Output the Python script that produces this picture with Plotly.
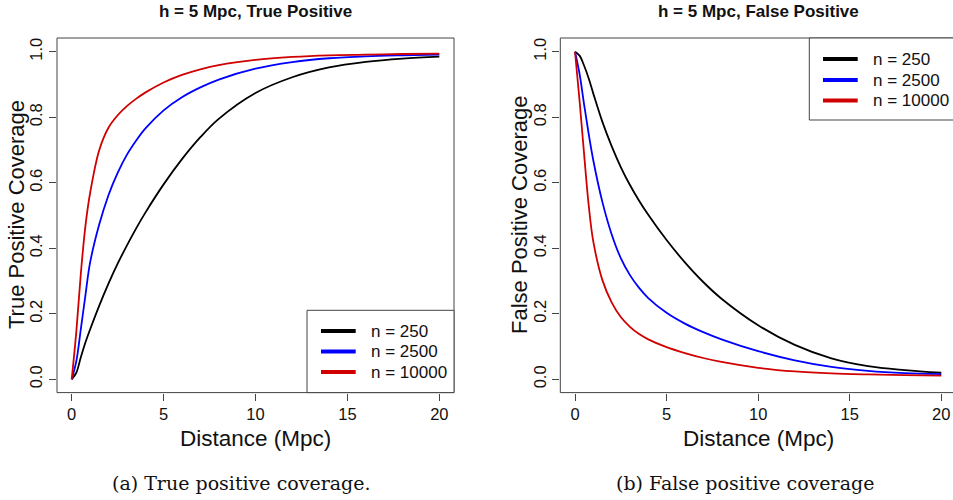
import plotly.graph_objects as go

W, H = 953, 500

# ---------------- data ----------------
dist = [0, 0.25, 0.5, 0.75, 1, 1.5, 2, 2.5, 3, 3.5, 4, 5, 6, 7, 8, 10, 12, 14, 16, 18, 20]

tp_250 = [0, 0.020, 0.068, 0.113, 0.152, 0.225, 0.292, 0.353, 0.408, 0.460, 0.508, 0.595, 0.672,
          0.739, 0.795, 0.874, 0.922, 0.952, 0.969, 0.979, 0.985]
tp_2500 = [0, 0.055, 0.155, 0.258, 0.356, 0.473, 0.562, 0.630, 0.685, 0.728, 0.765, 0.821, 0.861,
           0.891, 0.915, 0.948, 0.968, 0.980, 0.986, 0.989, 0.991]
tp_10000 = [0, 0.145, 0.325, 0.47, 0.568, 0.70, 0.768, 0.806, 0.834, 0.856, 0.875, 0.906, 0.929,
            0.946, 0.959, 0.975, 0.984, 0.989, 0.991, 0.993, 0.994]

fp_250 = [1.0, 0.988, 0.957, 0.918, 0.872, 0.785, 0.712, 0.648, 0.593, 0.545, 0.502, 0.425, 0.357,
          0.297, 0.246, 0.165, 0.105, 0.064, 0.040, 0.028, 0.02]
fp_2500 = [1.0, 0.932, 0.838, 0.748, 0.668, 0.54, 0.443, 0.37, 0.318, 0.279, 0.248, 0.203, 0.17,
           0.144, 0.122, 0.086, 0.058, 0.038, 0.026, 0.019, 0.016]
fp_10000 = [1.0, 0.85, 0.685, 0.53, 0.42, 0.302, 0.235, 0.19, 0.16, 0.138, 0.122, 0.098, 0.08,
            0.065, 0.053, 0.035, 0.024, 0.018, 0.015, 0.013, 0.011]

series_names = ["n = 250", "n = 2500", "n = 10000"]
series_colors = ["#000000", "#0000FF", "#D00000"]

x_ticks = [0, 5, 10, 15, 20]
y_ticks = [0.0, 0.2, 0.4, 0.6, 0.8, 1.0]
y_tick_text = ["0.0", "0.2", "0.4", "0.6", "0.8", "1.0"]

titles = ["h = 5 Mpc, True Positive", "h = 5 Mpc, False Positive"]
y_titles = ["True Positive Coverage", "False Positive Coverage"]
x_title = "Distance (Mpc)"
captions = ["(a) True positive coverage.", "(b) False positive coverage"]

# ---------------- helpers ----------------
def PX(x):
    return x / W

def PY(y):
    return 1 - y / H

SANS = "Liberation Sans, Arial, Helvetica, sans-serif"
SERIF = "DejaVu Serif, Liberation Serif, serif"
BOX = "#444444"

fig = go.Figure()

for ys, name, col in zip([tp_250, tp_2500, tp_10000], series_names, series_colors):
    fig.add_trace(go.Scatter(x=dist, y=ys, mode="lines", name=name,
                             line=dict(color=col, width=1.8, shape="spline", smoothing=1.0),
                             xaxis="x", yaxis="y", showlegend=False, hoverinfo="skip"))
for ys, name, col in zip([fp_250, fp_2500, fp_10000], series_names, series_colors):
    fig.add_trace(go.Scatter(x=dist, y=ys, mode="lines", name=name,
                             line=dict(color=col, width=1.8, shape="spline", smoothing=1.0),
                             xaxis="x2", yaxis="y2", showlegend=False, hoverinfo="skip"))

ydom = [PY(392.6), PY(38)]
axis_common = dict(ticks="outside", ticklen=7, tickcolor=BOX, tickwidth=1,
                   showgrid=False, zeroline=False, showline=False, automargin=False,
                   tickfont=dict(family=SANS, size=16.5, color="#111"))

fig.update_layout(
    width=W, height=H,
    margin=dict(l=0, r=0, t=0, b=0),
    paper_bgcolor="white", plot_bgcolor="white",
    template="none",
    showlegend=False,
    xaxis=dict(domain=[PX(57), PX(454)], range=[-0.8, 20.8], tickvals=x_ticks,
               anchor="y", **axis_common),
    yaxis=dict(domain=ydom, range=[-0.0406, 1.0418], tickvals=y_ticks, ticktext=y_tick_text,
               tickangle=-90, anchor="x", **axis_common),
    xaxis2=dict(domain=[PX(560.3), 1.0], range=[-0.803, 20.64], tickvals=x_ticks,
                anchor="y2", **axis_common),
    yaxis2=dict(domain=ydom, range=[-0.0406, 1.0418], tickvals=y_ticks, ticktext=y_tick_text,
                tickangle=-90, anchor="x2", **axis_common),
)

shapes = []
# panel boxes
shapes.append(dict(type="rect", xref="x domain", yref="y domain", x0=0, x1=1, y0=0, y1=1,
                   line=dict(color=BOX, width=1)))
for (x0, y0, x1, y1) in [(0, 0, 0, 1), (0, 1, 1, 1), (0, 0, 1, 0)]:
    shapes.append(dict(type="line", xref="x2 domain", yref="y2 domain", x0=x0, x1=x1, y0=y0, y1=y1,
                       line=dict(color=BOX, width=1)))

# legend boxes
shapes.append(dict(type="rect", xref="paper", yref="paper", x0=PX(307), x1=PX(454),
                   y0=PY(392.6), y1=PY(310.3), line=dict(color=BOX, width=1), fillcolor="white"))
shapes.append(dict(type="rect", xref="paper", yref="paper", x0=PX(809.3), x1=PX(960),
                   y0=PY(120), y1=PY(38), line=dict(color=BOX, width=1), fillcolor="white"))

annotations = []
legend_specs = [
    (321, 355.7, 369, [331, 351.5, 372]),
    (823, 857.7, 870.7, [59, 80, 100.5]),
]
for lx0, lx1, tx, rows in legend_specs:
    for yy, name, col in zip(rows, series_names, series_colors):
        shapes.append(dict(type="line", xref="paper", yref="paper", x0=PX(lx0), x1=PX(lx1),
                           y0=PY(yy), y1=PY(yy), line=dict(color=col, width=4)))
        annotations.append(dict(text=name, xref="paper", yref="paper", x=PX(tx), y=PY(yy),
                                xanchor="left", yanchor="middle", showarrow=False,
                                font=dict(family=SANS, size=17, color="#111")))

# titles
for cx, t in zip([255.5, 758], titles):
    annotations.append(dict(text="<b>%s</b>" % t, xref="paper", yref="paper", x=PX(cx), y=PY(11),
                            xanchor="center", yanchor="middle", showarrow=False,
                            font=dict(family=SANS, size=17, color="#111")))
# axis titles
for cx in [255.7, 758]:
    annotations.append(dict(text=x_title, xref="paper", yref="paper", x=PX(cx), y=PY(438.5),
                            xanchor="center", yanchor="middle", showarrow=False,
                            font=dict(family=SANS, size=22.5, color="#111")))
for cx, t in zip([17, 520], y_titles):
    annotations.append(dict(text=t, xref="paper", yref="paper", x=PX(cx), y=PY(215),
                            xanchor="center", yanchor="middle", showarrow=False, textangle=-90,
                            font=dict(family=SANS, size=22, color="#111")))
# captions
for cx, t in zip([241, 744.7], captions):
    annotations.append(dict(text=t, xref="paper", yref="paper", x=PX(cx), y=PY(483),
                            xanchor="center", yanchor="middle", showarrow=False,
                            font=dict(family=SERIF, size=19, color="#111")))

fig.update_layout(shapes=shapes, annotations=annotations)

fig.write_html("out.html", config={"displayModeBar": False})
